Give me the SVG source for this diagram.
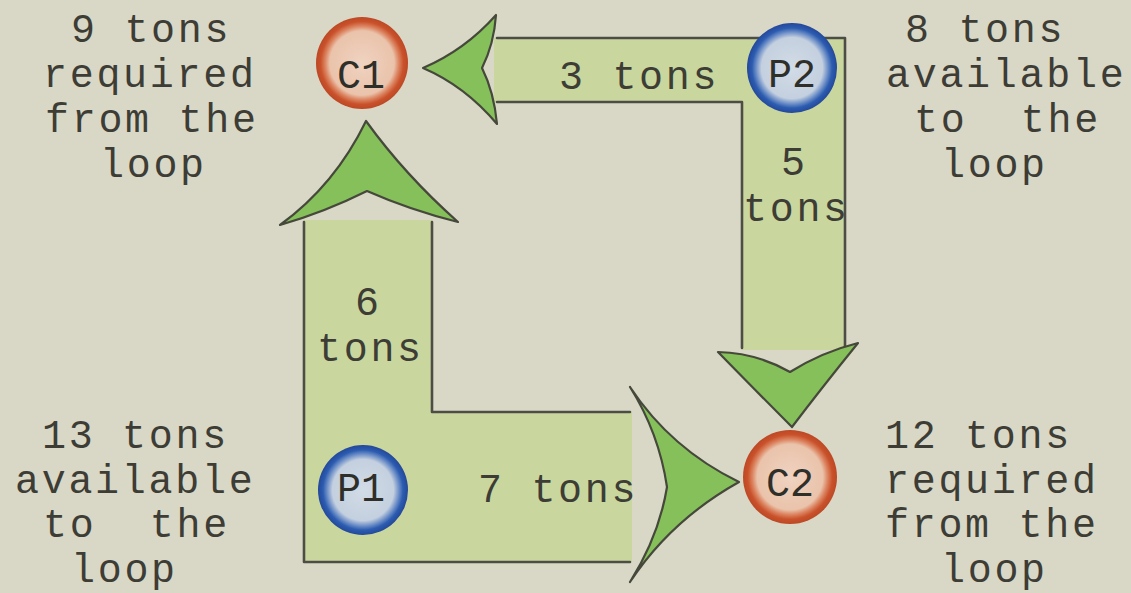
<svg xmlns="http://www.w3.org/2000/svg" width="1131" height="593" viewBox="0 0 1131 593">
<defs>
<style>
.t{font-family:"Liberation Mono","Courier New",monospace;font-size:40px;fill:#3d3d36;letter-spacing:2.7px;white-space:pre}
.c{font-family:"Liberation Mono","Courier New",monospace;font-size:40px;fill:#2f2f2a;text-anchor:middle}
.bar{fill:#c9d79f;stroke:none}
.edge{fill:none;stroke:#4d4d45;stroke-width:2.6;stroke-linecap:round;stroke-linejoin:round}
.head{fill:#86c05a;stroke:#45483a;stroke-width:2.2;stroke-linejoin:round}
</style>
<radialGradient id="gc" cx="50%" cy="50%" r="50%">
<stop offset="0%" stop-color="#efd3c1"/>
<stop offset="70%" stop-color="#eac3ab"/>
<stop offset="80%" stop-color="#dc8562"/>
<stop offset="90%" stop-color="#c9522b"/>
<stop offset="100%" stop-color="#bd4825"/>
</radialGradient>
<radialGradient id="gp" cx="50%" cy="50%" r="50%">
<stop offset="0%" stop-color="#d2dce6"/>
<stop offset="68%" stop-color="#c4d0df"/>
<stop offset="79%" stop-color="#7393c9"/>
<stop offset="89%" stop-color="#2c5cb0"/>
<stop offset="100%" stop-color="#24489a"/>
</radialGradient>
</defs>
<rect x="0" y="0" width="1131" height="593" fill="#d9d8c6"/>

<g id="connectors">
  <g id="flow-p2">
    <polygon class="bar" points="494,38 845,38 845,350 742,350 742,102 494,102"/>
    <path class="edge" d="M497,38 H845 V348 M742,348 V102 H497"/>
    <path class="head" d="M423,68 Q465,50 496,15 Q494,44 482,68 Q494,92 497,124 Q465,86 423,68 Z"/>
    <path class="head" d="M792,427 Q760,395 718,352 Q757,353 790,372 Q822,352 858,343 Q820,390 792,427 Z"/>
    <text class="t" x="559" y="89">3 tons</text>
    <text class="t" x="781" y="175">5</text>
    <text class="t" x="743" y="221">tons</text>
  </g>
  <g id="flow-p1">
    <polygon class="bar" points="304,220 432,220 432,412 632,412 632,562 304,562"/>
    <path class="edge" d="M304,222 V562 H630 M630,412 H432 V222"/>
    <path class="head" d="M366,121 Q335,185 280,225 Q325,212 367,191 Q410,210 458,222 Q405,175 366,121 Z"/>
    <path class="head" d="M739,482 Q671,449 630,387 Q659,433 667,487 Q659,536 630,582 Q671,520 739,482 Z"/>
    <text class="t" x="355" y="315">6</text>
    <text class="t" x="317" y="361">tons</text>
    <text class="t" x="478" y="502">7 tons</text>
  </g>
</g>

<g id="C1">
  <circle cx="362" cy="63" r="46" fill="url(#gc)"/>
  <text class="c" x="361" y="88">C1</text>
</g>
<g id="P2">
  <circle cx="792" cy="68" r="45" fill="url(#gp)"/>
  <text class="c" x="792" y="87">P2</text>
</g>
<g id="P1">
  <circle cx="363" cy="490" r="45" fill="url(#gp)"/>
  <text class="c" x="361" y="501">P1</text>
</g>
<g id="C2">
  <circle cx="790" cy="477" r="47" fill="url(#gc)"/>
  <text class="c" x="790" y="496">C2</text>
</g>

<g id="label-c1">
  <text class="t" x="71" y="42">9 tons</text>
  <text class="t" x="43" y="87">required</text>
  <text class="t" x="45" y="132">from the</text>
  <text class="t" x="100" y="177">loop</text>
</g>
<g id="label-p2">
  <text class="t" x="905" y="42">8 tons</text>
  <text class="t" x="886" y="87">available</text>
  <text class="t" x="914" y="132" xml:space="preserve">to  the</text>
  <text class="t" x="941" y="177">loop</text>
</g>
<g id="label-p1">
  <text class="t" x="42" y="448">13 tons</text>
  <text class="t" x="15" y="493">available</text>
  <text class="t" x="43" y="537" xml:space="preserve">to  the</text>
  <text class="t" x="71" y="582">loop</text>
</g>
<g id="label-c2">
  <text class="t" x="885" y="448">12 tons</text>
  <text class="t" x="885" y="493">required</text>
  <text class="t" x="885" y="537">from the</text>
  <text class="t" x="941" y="582">loop</text>
</g>
</svg>
